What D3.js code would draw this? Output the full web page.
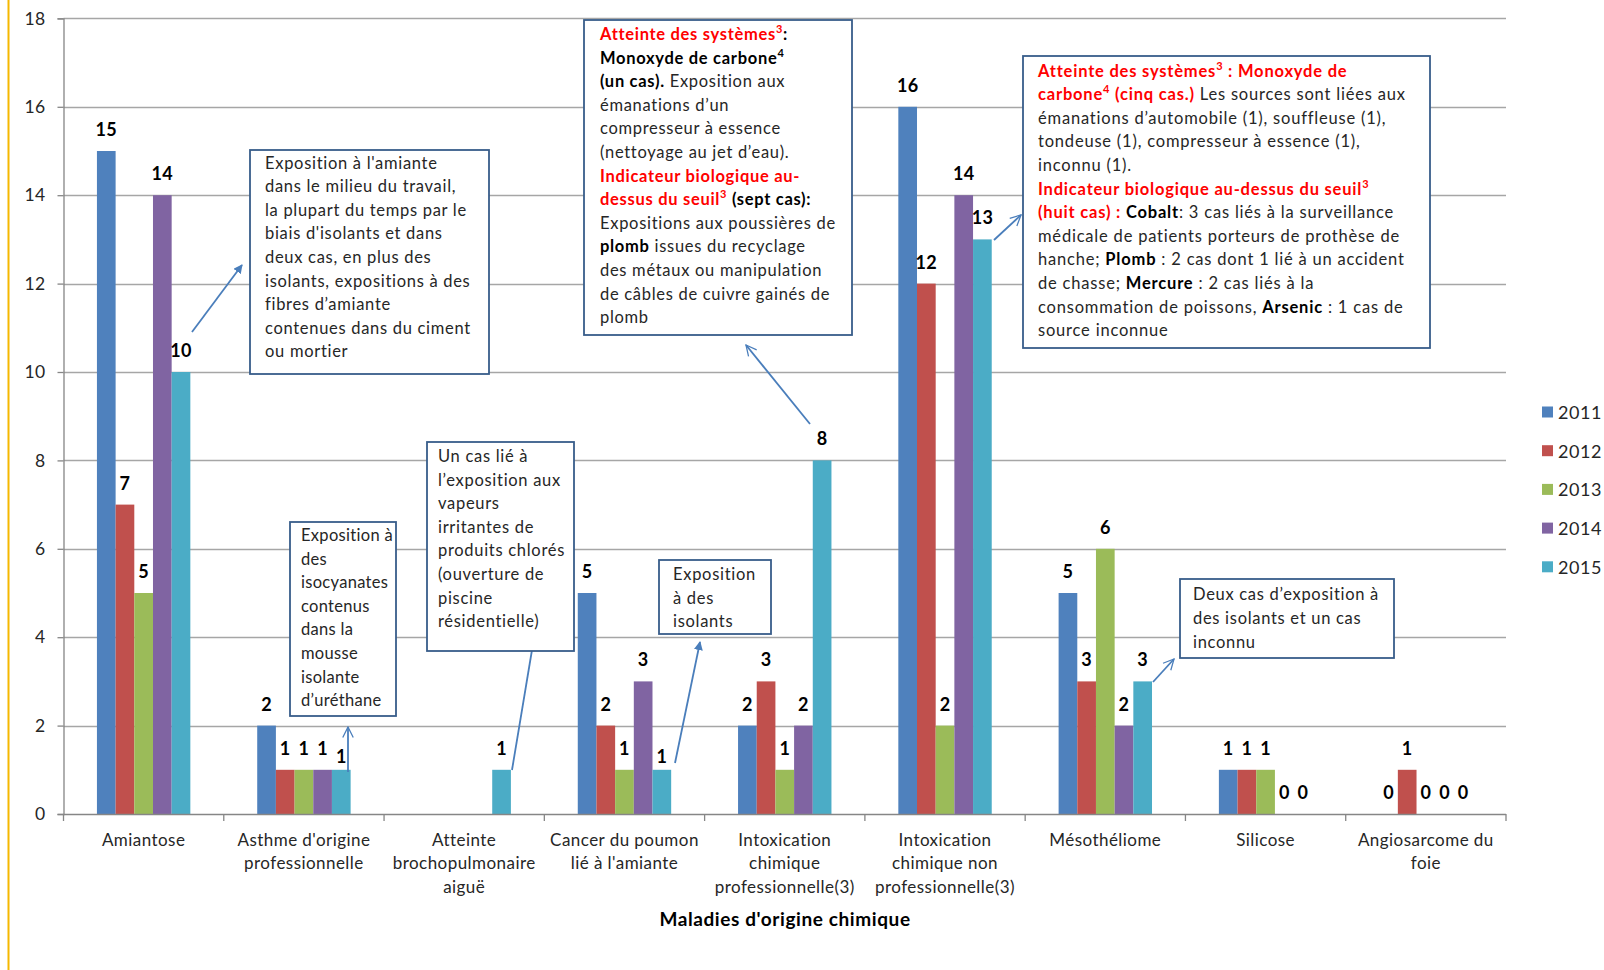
<!DOCTYPE html>
<html>
<head>
<meta charset="utf-8">
<script src="https://cdn.jsdelivr.net/npm/d3@7"></script>
<style>
  html, body { margin: 0; padding: 0; background: #fff; }
  svg { display: block; font-family: Lato, "Open Sans", sans-serif; }
</style>
</head>
<body>
<svg id="chart" width="1604" height="970"></svg>
<script>
// Category labels (wrapped as on the axis)
const categoryLines = [
  ["Amiantose"],
  ["Asthme d'origine", "professionnelle"],
  ["Atteinte", "brochopulmonaire", "aiguë"],
  ["Cancer du poumon", "lié à l'amiante"],
  ["Intoxication", "chimique", "professionnelle(3)"],
  ["Intoxication", "chimique non", "professionnelle(3)"],
  ["Mésothéliome"],
  ["Silicose"],
  ["Angiosarcome du", "foie"]
];
const categories = categoryLines.map(l => l.join(" "));

const years = ["2011", "2012", "2013", "2014", "2015"];
const colors = ["#4F81BD", "#C0504D", "#9BBB59", "#8064A2", "#4BACC6"];

// Number of cases per year (null = not reported)
const v2011 = [15, 2, null, 5, 2, 16, 5, 1, 0];
const v2012 = [7, 1, null, 2, 3, 12, 3, 1, 1];
const v2013 = [5, 1, null, 1, 1, 2, 6, 1, 0];
const v2014 = [14, 1, null, 3, 2, 14, 2, 0, 0];
const v2015 = [10, 1, 1, 1, 8, 13, 3, 0, 0];
const series = [v2011, v2012, v2013, v2014, v2015];

const yTicks = [0, 2, 4, 6, 8, 10, 12, 14, 16, 18];
const axisTitle = "Maladies d'origine chimique";

const svg = d3.select("#chart");

// left page rule
svg.append("line").attr("x1", 8.5).attr("x2", 8.5).attr("y1", 0).attr("y2", 970)
  .attr("stroke", "#F5B800").attr("stroke-width", 2);

const plot = { left: 63.5, right: 1506, top: 18.4, bottom: 814 };

const x0 = d3.scaleBand().domain(categories).range([plot.left, plot.right]);
const x1 = d3.scaleBand().domain(years).range([0, x0.bandwidth()]).paddingOuter(1.79);
const y = d3.scaleLinear().domain([0, 18]).range([plot.bottom, plot.top]);

// gridlines
svg.append("g").selectAll("line").data(yTicks.filter(t => t > 0)).join("line")
  .attr("x1", plot.left).attr("x2", plot.right)
  .attr("y1", d => Math.round(y(d)) + 0.5).attr("y2", d => Math.round(y(d)) + 0.5)
  .attr("stroke", "#A6A6A6").attr("stroke-width", 1.3);

// y axis
const yAxis = svg.append("g").attr("transform", `translate(${plot.left},0)`)
  .call(d3.axisLeft(y).tickValues(yTicks).tickSize(6).tickPadding(12));
yAxis.select(".domain").attr("stroke", "#868686").attr("stroke-width", 1.3);
yAxis.selectAll(".tick line").attr("stroke", "#868686").attr("stroke-width", 1.3);
yAxis.selectAll(".tick text").attr("font-family", "Lato, sans-serif")
  .attr("font-size", 17.5).attr("letter-spacing", 0.4).attr("fill", "#262626");

// bars
const rows = [];
series.forEach((vals, si) => vals.forEach((v, ci) => {
  if (v !== null) rows.push({ cat: categories[ci], year: years[si], si, v });
}));

svg.append("g").selectAll("rect").data(rows).join("rect")
  .attr("x", d => x0(d.cat) + x1(d.year))
  .attr("width", x1.bandwidth())
  .attr("y", d => y(d.v))
  .attr("height", d => y(0) - y(d.v))
  .attr("fill", d => colors[d.si]);

// x axis
const xAxisG = svg.append("g");
xAxisG.append("line").attr("x1", plot.left).attr("x2", plot.right)
  .attr("y1", plot.bottom + 0.5).attr("y2", plot.bottom + 0.5)
  .attr("stroke", "#868686").attr("stroke-width", 1.3);
const edges = categories.map(c => x0(c)).concat([plot.right]);
xAxisG.selectAll("line.tk").data(edges).join("line").attr("class", "tk")
  .attr("x1", d => d).attr("x2", d => d)
  .attr("y1", plot.bottom).attr("y2", plot.bottom + 7)
  .attr("stroke", "#868686").attr("stroke-width", 1.3);

const catLabels = xAxisG.selectAll("text.cat").data(categoryLines).join("text")
  .attr("class", "cat")
  .attr("text-anchor", "middle")
  .attr("font-size", 17).attr("letter-spacing", 0.45).attr("fill", "#262626")
  .attr("x", (d, i) => x0(categories[i]) + x0.bandwidth() / 2);
catLabels.selectAll("tspan").data(d => d).join("tspan")
  .attr("x", function () { return this.parentNode.getAttribute("x"); })
  .attr("y", (d, i) => 839 + i * 23.5)
  .attr("dominant-baseline", "central")
  .text(d => d);

svg.append("text").attr("x", 785).attr("y", 918)
  .attr("text-anchor", "middle").attr("dominant-baseline", "central")
  .attr("font-size", 19).attr("letter-spacing", 0.6).attr("font-weight", "bold").attr("fill", "#000")
  .text(axisTitle);

// value labels
const nudge = { "Asthme d'origine professionnelle|2015": 8, "Cancer du poumon lié à l'amiante|2015": 8 };
svg.append("g").selectAll("text").data(rows).join("text")
  .attr("x", d => x0(d.cat) + x1(d.year) + x1.bandwidth() / 2)
  .attr("y", d => y(d.v) - 22 + (nudge[d.cat + "|" + d.year] || 0))
  .attr("text-anchor", "middle").attr("dominant-baseline", "central")
  .attr("font-size", 18).attr("letter-spacing", 0.3).attr("font-weight", "bold").attr("fill", "#000")
  .text(d => d.v);

// legend
const legend = svg.append("g").selectAll("g").data(years).join("g")
  .attr("transform", (d, i) => `translate(1542,${412 + i * 38.7})`);
legend.append("rect").attr("x", 0).attr("y", -5.5).attr("width", 11).attr("height", 11)
  .attr("fill", (d, i) => colors[i]);
legend.append("text").attr("x", 16).attr("y", 0).attr("dominant-baseline", "central")
  .attr("font-size", 18).attr("letter-spacing", 0.6).attr("fill", "#262626").text(d => d);

// arrow markers
const defs = svg.append("defs");
defs.append("marker").attr("id", "headFilled").attr("viewBox", "0 0 10 10")
  .attr("refX", 9).attr("refY", 5).attr("markerWidth", 5).attr("markerHeight", 5)
  .attr("orient", "auto").attr("markerUnits", "strokeWidth")
  .append("path").attr("d", "M0,0 L10,5 L0,10 z").attr("fill", "#4A7EBB");
defs.append("marker").attr("id", "headOpen").attr("viewBox", "0 0 12 12")
  .attr("refX", 11).attr("refY", 6).attr("markerWidth", 7).attr("markerHeight", 7)
  .attr("orient", "auto").attr("markerUnits", "strokeWidth")
  .append("path").attr("d", "M1,1 L11,6 L1,11").attr("fill", "none")
  .attr("stroke", "#4A7EBB").attr("stroke-width", 1.2);

// callout notes: segments are plain strings or {t, s} where s holds r(red) b(bold) u(superscript)
const notes = [
  { box: [250, 150, 239, 224], tx: 265, ty: 162.6, ls: 0.7,
    arrow: [192, 332, 242, 265], head: "headFilled",
    lines: [
      ["Exposition à l'amiante"], ["dans le milieu du travail,"], ["la plupart du temps par le"],
      ["biais d'isolants et dans"], ["deux cas, en plus des"], ["isolants, expositions à des"],
      ["fibres d’amiante"], ["contenues dans du ciment"], ["ou mortier"]
    ] },
  { box: [290, 522, 106, 194], tx: 301, ty: 535, ls: 0.3,
    arrow: [348, 772, 348, 727], head: "headOpen",
    lines: [["Exposition à"], ["des"], ["isocyanates"], ["contenus"], ["dans la"], ["mousse"], ["isolante"], ["d’uréthane"]] },
  { box: [427, 442, 147, 209], tx: 438, ty: 456, ls: 0.7,
    arrow: [512, 770, 536, 626], head: "headOpen",
    lines: [["Un cas lié à"], ["l’exposition aux"], ["vapeurs"], ["irritantes de"], ["produits chlorés"], ["(ouverture de"], ["piscine"], ["résidentielle)"]] },
  { box: [659, 560, 112, 74], tx: 673, ty: 574, ls: 0.7,
    arrow: [675, 763, 700, 642], head: "headFilled",
    lines: [["Exposition"], ["à des"], ["isolants"]] },
  { box: [584, 20, 268, 315], tx: 600, ty: 34, ls: 0.7,
    arrow: [810, 424, 746, 345], head: "headOpen",
    lines: [
      [{ t: "Atteinte des systèmes", s: "rb" }, { t: "3", s: "rbu" }, { t: ":", s: "b" }],
      [{ t: "Monoxyde de carbone", s: "b" }, { t: "4", s: "bu" }],
      [{ t: "(un cas).", s: "b" }, " Exposition aux"],
      ["émanations d’un"],
      ["compresseur à essence"],
      ["(nettoyage au jet d’eau)."],
      [{ t: "Indicateur biologique au-", s: "rb" }],
      [{ t: "dessus du seuil", s: "rb" }, { t: "3", s: "rbu" }, { t: " (sept cas):", s: "b" }],
      ["Expositions aux poussières de"],
      [{ t: "plomb", s: "b" }, " issues du recyclage"],
      ["des métaux ou manipulation"],
      ["de câbles de cuivre gainés de"],
      ["plomb"]
    ] },
  { box: [1023, 56, 407, 292], tx: 1038, ty: 70.6, ls: 0.8,
    arrow: [994, 240, 1021, 215], head: "headOpen",
    lines: [
      [{ t: "Atteinte des systèmes", s: "rb" }, { t: "3", s: "rbu" }, { t: " : Monoxyde de", s: "rb" }],
      [{ t: "carbone", s: "rb" }, { t: "4", s: "rbu" }, { t: " (cinq cas.)", s: "rb" }, " Les sources sont liées aux"],
      ["émanations d’automobile (1), souffleuse (1),"],
      ["tondeuse (1), compresseur à essence (1),"],
      ["inconnu (1)."],
      [{ t: "Indicateur biologique au-dessus du seuil", s: "rb" }, { t: "3", s: "rbu" }],
      [{ t: "(huit cas)  : ", s: "rb" }, { t: "Cobalt", s: "b" }, ": 3 cas liés à la surveillance"],
      ["médicale de patients porteurs de prothèse de"],
      ["hanche; ", { t: "Plomb", s: "b" }, " : 2 cas dont 1 lié à un accident"],
      ["de chasse; ", { t: "Mercure", s: "b" }, " : 2 cas liés à la"],
      ["consommation de poissons, ", { t: "Arsenic", s: "b" }, " : 1 cas de"],
      ["source inconnue"]
    ] },
  { box: [1180, 579, 214, 79], tx: 1193, ty: 594.4, ls: 0.7,
    arrow: [1153, 682, 1174, 659], head: "headOpen",
    lines: [["Deux cas d’exposition à"], ["des isolants et un cas"], ["inconnu"]] }
];

const lineGap = 23.6;
const noteG = svg.append("g");
notes.forEach(n => {
  noteG.append("line")
    .attr("x1", n.arrow[0]).attr("y1", n.arrow[1]).attr("x2", n.arrow[2]).attr("y2", n.arrow[3])
    .attr("stroke", "#4A7EBB").attr("stroke-width", 1.8)
    .attr("marker-end", `url(#${n.head})`);
  noteG.append("rect")
    .attr("x", n.box[0]).attr("y", n.box[1]).attr("width", n.box[2]).attr("height", n.box[3])
    .attr("fill", "#fff").attr("stroke", "#385D8A").attr("stroke-width", 1.8);
  n.lines.forEach((segs, li) => {
    const t = noteG.append("text")
      .attr("x", n.tx).attr("y", n.ty + li * lineGap)
      .attr("dominant-baseline", "central")
      .attr("font-size", 16.5).attr("letter-spacing", n.ls).attr("fill", "#262626");
    let raised = false;
    segs.forEach(seg => {
      const s = typeof seg === "string" ? "" : seg.s;
      const txt = typeof seg === "string" ? seg : seg.t;
      const sp = t.append("tspan").text(txt);
      if (s.includes("r")) sp.attr("fill", "#FF0000");
      else if (s.includes("b")) sp.attr("fill", "#000");
      if (s.includes("b")) sp.attr("font-weight", "bold");
      if (s.includes("u")) {
        sp.attr("font-size", 11).attr("dy", -6);
        raised = true;
      } else if (raised) {
        sp.attr("dy", 6);
        raised = false;
      }
    });
  });
});
</script>
</body>
</html>
